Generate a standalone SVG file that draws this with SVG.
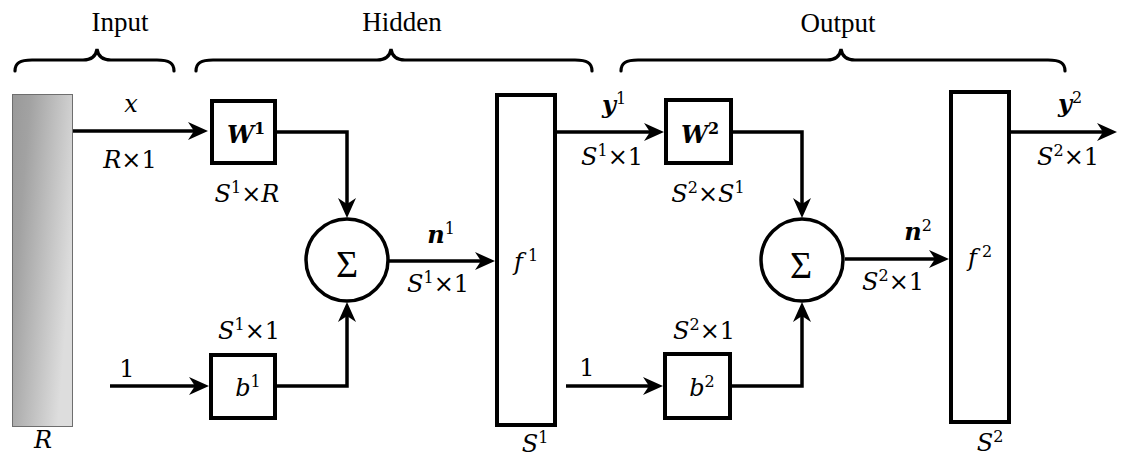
<svg xmlns="http://www.w3.org/2000/svg" width="1122" height="459" viewBox="0 0 1122 459">
<style>
.hdr{font-family:"Liberation Serif",serif;font-size:27px;fill:#000;text-anchor:middle}
.m{font-family:"DejaVu Serif",serif;font-size:24px;fill:#000;text-anchor:middle}
.i{font-style:italic}
.bi{font-style:italic;font-weight:bold}
.sup{font-size:16px}
.sig{font-family:"Liberation Serif",serif;font-size:38px;fill:#000;text-anchor:middle}
.box{fill:#fff;stroke:#000;stroke-width:4}
.brace{fill:none;stroke:#000;stroke-width:3.2;stroke-linecap:round}
.wire{fill:none;stroke:#000;stroke-width:3.5}
.arr{marker-end:url(#ah)}
</style>
<defs>
<linearGradient id="gin" x1="0" y1="0" x2="1" y2="0.45">
<stop offset="0" stop-color="#999999"/>
<stop offset="0.25" stop-color="#a2a2a2"/>
<stop offset="1" stop-color="#dddddd"/>
</linearGradient>
<marker id="ah" viewBox="0 0 20 18" refX="12" refY="9" markerWidth="20" markerHeight="18" markerUnits="userSpaceOnUse" orient="auto">
<path d="M0,0 L20,9 L0,18 L6,9 Z" fill="#000"/>
</marker>
</defs>

<g id="braces">
<path class="brace" d="M15,71 C15,63 20,60 32,60 L83,60 C92,60 96,56 97,49 C98,56 102,60 111,60 L157,60 C169,60 174,63 174,71"/>
<text class="hdr" x="120" y="31">Input</text>
<path class="brace" d="M196,71 C196,63 201,60 213,60 L377,60 C386,60 390,56 391,49 C392,56 396,60 405,60 L575,60 C587,60 592,63 592,71"/>
<text class="hdr" x="402" y="31">Hidden</text>
<path class="brace" d="M621,71 C621,63 626,60 638,60 L827,60 C836,60 840,56 841,49 C842,56 846,60 855,60 L1048,60 C1060,60 1065,63 1065,71"/>
<text class="hdr" x="838" y="32">Output</text>
</g>

<g id="input">
<rect x="12.5" y="94.5" width="60" height="332" fill="url(#gin)" stroke="#6e6e6e" stroke-width="1"/>
<text class="m" x="43" y="448"><tspan class="i">R</tspan></text>
</g>

<g id="connectors">
<path class="wire arr" d="M73,131 L200,131"/>
<path class="wire arr" d="M277,132 L347,132 L347,210"/>
<path class="wire arr" d="M110,386 L201,386"/>
<path class="wire arr" d="M277,386 L347,386 L347,310"/>
<path class="wire arr" d="M389,261 L487,261"/>
<path class="wire arr" d="M557,132 L656,132"/>
<path class="wire arr" d="M733,132 L802,132 L802,210"/>
<path class="wire arr" d="M566,386 L655,386"/>
<path class="wire arr" d="M732,386 L802,386 L802,310"/>
<path class="wire arr" d="M845,259 L941,259"/>
<path class="wire arr" d="M1011,132 L1109,132"/>
<text class="m" x="131" y="112"><tspan class="i">x</tspan></text>
<text class="m" x="130" y="168"><tspan class="i">R</tspan>×1</text>
<text class="m" x="127" y="377">1</text>
<text class="m" x="441" y="243"><tspan class="bi">n</tspan><tspan class="sup" dy="-9">1</tspan></text>
<text class="m" x="438" y="292"><tspan class="i">S</tspan><tspan class="sup" dy="-9">1</tspan><tspan dy="9">×1</tspan></text>
<text class="m" x="614" y="113"><tspan class="bi">y</tspan><tspan class="sup" dy="-9">1</tspan></text>
<text class="m" x="612" y="165"><tspan class="i">S</tspan><tspan class="sup" dy="-9">1</tspan><tspan dy="9">×1</tspan></text>
<text class="m" x="587" y="376">1</text>
<text class="m" x="918" y="240"><tspan class="bi">n</tspan><tspan class="sup" dy="-9">2</tspan></text>
<text class="m" x="893" y="290"><tspan class="i">S</tspan><tspan class="sup" dy="-9">2</tspan><tspan dy="9">×1</tspan></text>
<text class="m" x="1070" y="112"><tspan class="bi">y</tspan><tspan class="sup" dy="-9">2</tspan></text>
<text class="m" x="1068" y="165"><tspan class="i">S</tspan><tspan class="sup" dy="-9">2</tspan><tspan dy="9">×1</tspan></text>
</g>

<g id="W1">
<rect class="box" x="212" y="101" width="63" height="62"/>
<text class="m" x="246" y="143"><tspan class="bi">W</tspan><tspan class="sup" dy="-9" font-weight="bold">1</tspan></text>
<text class="m" x="247" y="202"><tspan class="i">S</tspan><tspan class="sup" dy="-9">1</tspan><tspan dy="9">×</tspan><tspan class="i">R</tspan></text>
</g>

<g id="b1">
<rect class="box" x="211" y="355" width="64" height="63"/>
<text class="m" x="248" y="396"><tspan class="i">b</tspan><tspan class="sup" dy="-9">1</tspan></text>
<text class="m" x="249" y="339"><tspan class="i">S</tspan><tspan class="sup" dy="-9">1</tspan><tspan dy="9">×1</tspan></text>
</g>

<g id="sum1">
<circle cx="347" cy="260" r="41" fill="#fff" stroke="#000" stroke-width="3.5"/>
<text class="sig" x="347" y="277">Σ</text>
</g>

<g id="f1">
<rect class="box" x="497" y="95" width="58" height="330"/>
<text class="m" x="526" y="270"><tspan class="i">f</tspan><tspan class="sup" dy="-9"> 1</tspan></text>
<text class="m" x="535" y="452"><tspan class="i">S</tspan><tspan class="sup" dy="-9">1</tspan></text>
</g>

<g id="W2">
<rect class="box" x="666" y="100" width="65" height="63"/>
<text class="m" x="700" y="143"><tspan class="bi">W</tspan><tspan class="sup" dy="-9" font-weight="bold">2</tspan></text>
<text class="m" x="708" y="202"><tspan class="i">S</tspan><tspan class="sup" dy="-9">2</tspan><tspan dy="9">×</tspan><tspan class="i">S</tspan><tspan class="sup" dy="-9">1</tspan></text>
</g>

<g id="b2">
<rect class="box" x="665" y="354" width="65" height="64"/>
<text class="m" x="702" y="396"><tspan class="i">b</tspan><tspan class="sup" dy="-9">2</tspan></text>
<text class="m" x="704" y="339"><tspan class="i">S</tspan><tspan class="sup" dy="-9">2</tspan><tspan dy="9">×1</tspan></text>
</g>

<g id="sum2">
<circle cx="802" cy="260" r="41" fill="#fff" stroke="#000" stroke-width="3.5"/>
<text class="sig" x="801" y="278">Σ</text>
</g>

<g id="f2">
<rect class="box" x="951" y="92" width="58" height="330"/>
<text class="m" x="980" y="266"><tspan class="i">f</tspan><tspan class="sup" dy="-9"> 2</tspan></text>
<text class="m" x="990" y="451"><tspan class="i">S</tspan><tspan class="sup" dy="-9">2</tspan></text>
</g>
</svg>
